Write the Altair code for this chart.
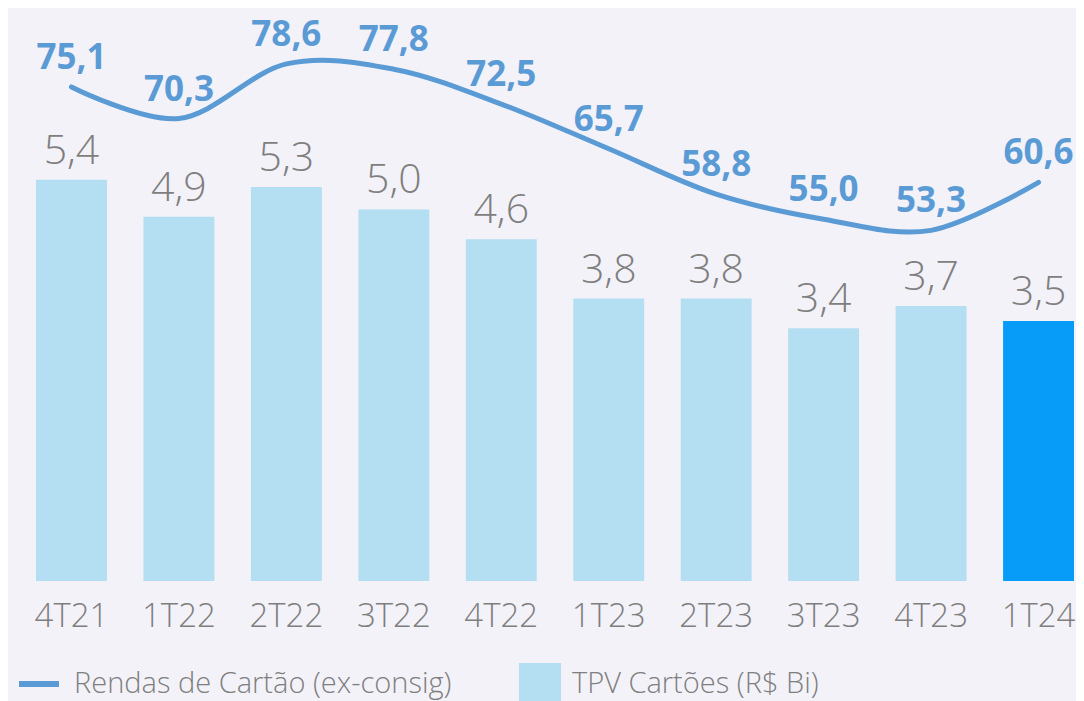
import altair as alt
import pandas as pd

quarters = ["4T21", "1T22", "2T22", "3T22", "4T22", "1T23", "2T23", "3T23", "4T23", "1T24"]
tpv = [5.4, 4.9, 5.3, 5.0, 4.6, 3.8, 3.8, 3.4, 3.7, 3.5]
rendas = [75.1, 70.3, 78.6, 77.8, 72.5, 65.7, 58.8, 55.0, 53.3, 60.6]
tpv_labels = ["5,4", "4,9", "5,3", "5,0", "4,6", "3,8", "3,8", "3,4", "3,7", "3,5"]
rendas_labels = ["75,1", "70,3", "78,6", "77,8", "72,5", "65,7", "58,8", "55,0", "53,3", "60,6"]
line_name = "Rendas de Cartão (ex-consig)"
bar_name = "TPV Cartões (R$ Bi)"
highlight = "1T24"

df = pd.DataFrame({
    "q": quarters, "tpv": tpv, "rendas": rendas,
    "tpv_lbl": tpv_labels, "rendas_lbl": rendas_labels,
    "s_line": line_name, "s_bar": bar_name,
})

FONT = "Open Sans"
GRAY = "#7F7F7F"
BLUE_LINE = "#5B9BD5"
BAR = "#B4DEF1"
BAR_HI = "#069CF8"

x = alt.X("q:N", sort=quarters, title=None,
          scale=alt.Scale(range=[28, 1066], paddingInner=0.34, paddingOuter=0),
          axis=alt.Axis(labelAngle=0, labelFont=FONT, labelFontSize=33, labelFontWeight=300,
                        labelColor=GRAY, domain=False, ticks=False, tickSize=0,
                        labelPadding=19, grid=False))

ybar = alt.Y("tpv:Q", axis=None, scale=alt.Scale(domain=[0, 7.71], nice=False, zero=True))
yline = alt.Y("rendas:Q", axis=None, scale=alt.Scale(domain=[0, 87.1], nice=False, zero=True))

base = alt.Chart(df)

bars = base.mark_bar().encode(
    x=x, y=ybar,
    fill=alt.condition(
        alt.datum.q == highlight,
        alt.value(BAR_HI),
        alt.Fill("s_bar:N", scale=alt.Scale(domain=[bar_name], range=[BAR]),
                 legend=alt.Legend(orient="none", legendX=511, legendY=655, title=None,
                                   symbolType="square", symbolSize=1764, symbolStrokeWidth=0,
                                   symbolOpacity=1,
                                   labelFont=FONT, labelFontSize=29, labelFontWeight=300,
                                   labelColor=GRAY, labelOffset=11, padding=0,
                                   labelLimit=600))),
)

bar_text = base.mark_text(baseline="alphabetic", dy=-16, font=FONT, fontSize=41,
                          fontWeight=300, color=GRAY).encode(x=x, y=ybar, text="tpv_lbl:N")

line = base.mark_line(interpolate="cardinal", strokeWidth=5, strokeCap="round").encode(
    x=x, y=yline,
    stroke=alt.Stroke("s_line:N", scale=alt.Scale(domain=[line_name], range=[BLUE_LINE]),
                      legend=alt.Legend(orient="none", legendX=8, legendY=653, title=None,
                                        symbolType="stroke", symbolSize=1600,
                                        symbolStrokeWidth=6, symbolStrokeColor=BLUE_LINE,
                                        symbolOpacity=1,
                                        labelFont=FONT, labelFontSize=29, labelFontWeight=300,
                                        labelColor=GRAY, labelOffset=12, padding=0,
                                        labelLimit=600)),
)

line_text = base.mark_text(baseline="alphabetic", dy=-18, font=FONT, fontSize=35,
                           fontWeight="bold", color=BLUE_LINE).encode(
    x=x, y=yline, text="rendas_lbl:N")

chart = alt.layer(
    alt.layer(bars, bar_text),
    alt.layer(line, line_text),
).resolve_scale(y="independent", fill="independent", stroke="independent").properties(
    width=1068, height=573,
    autosize=alt.AutoSizeParams(type="none"),
    padding={"left": 0, "top": 0, "right": 0, "bottom": 120},
    background="#F3F2F8",
).configure_view(stroke=None)

chart.save("out.html", embed_options={"renderer": "svg", "actions": False})
